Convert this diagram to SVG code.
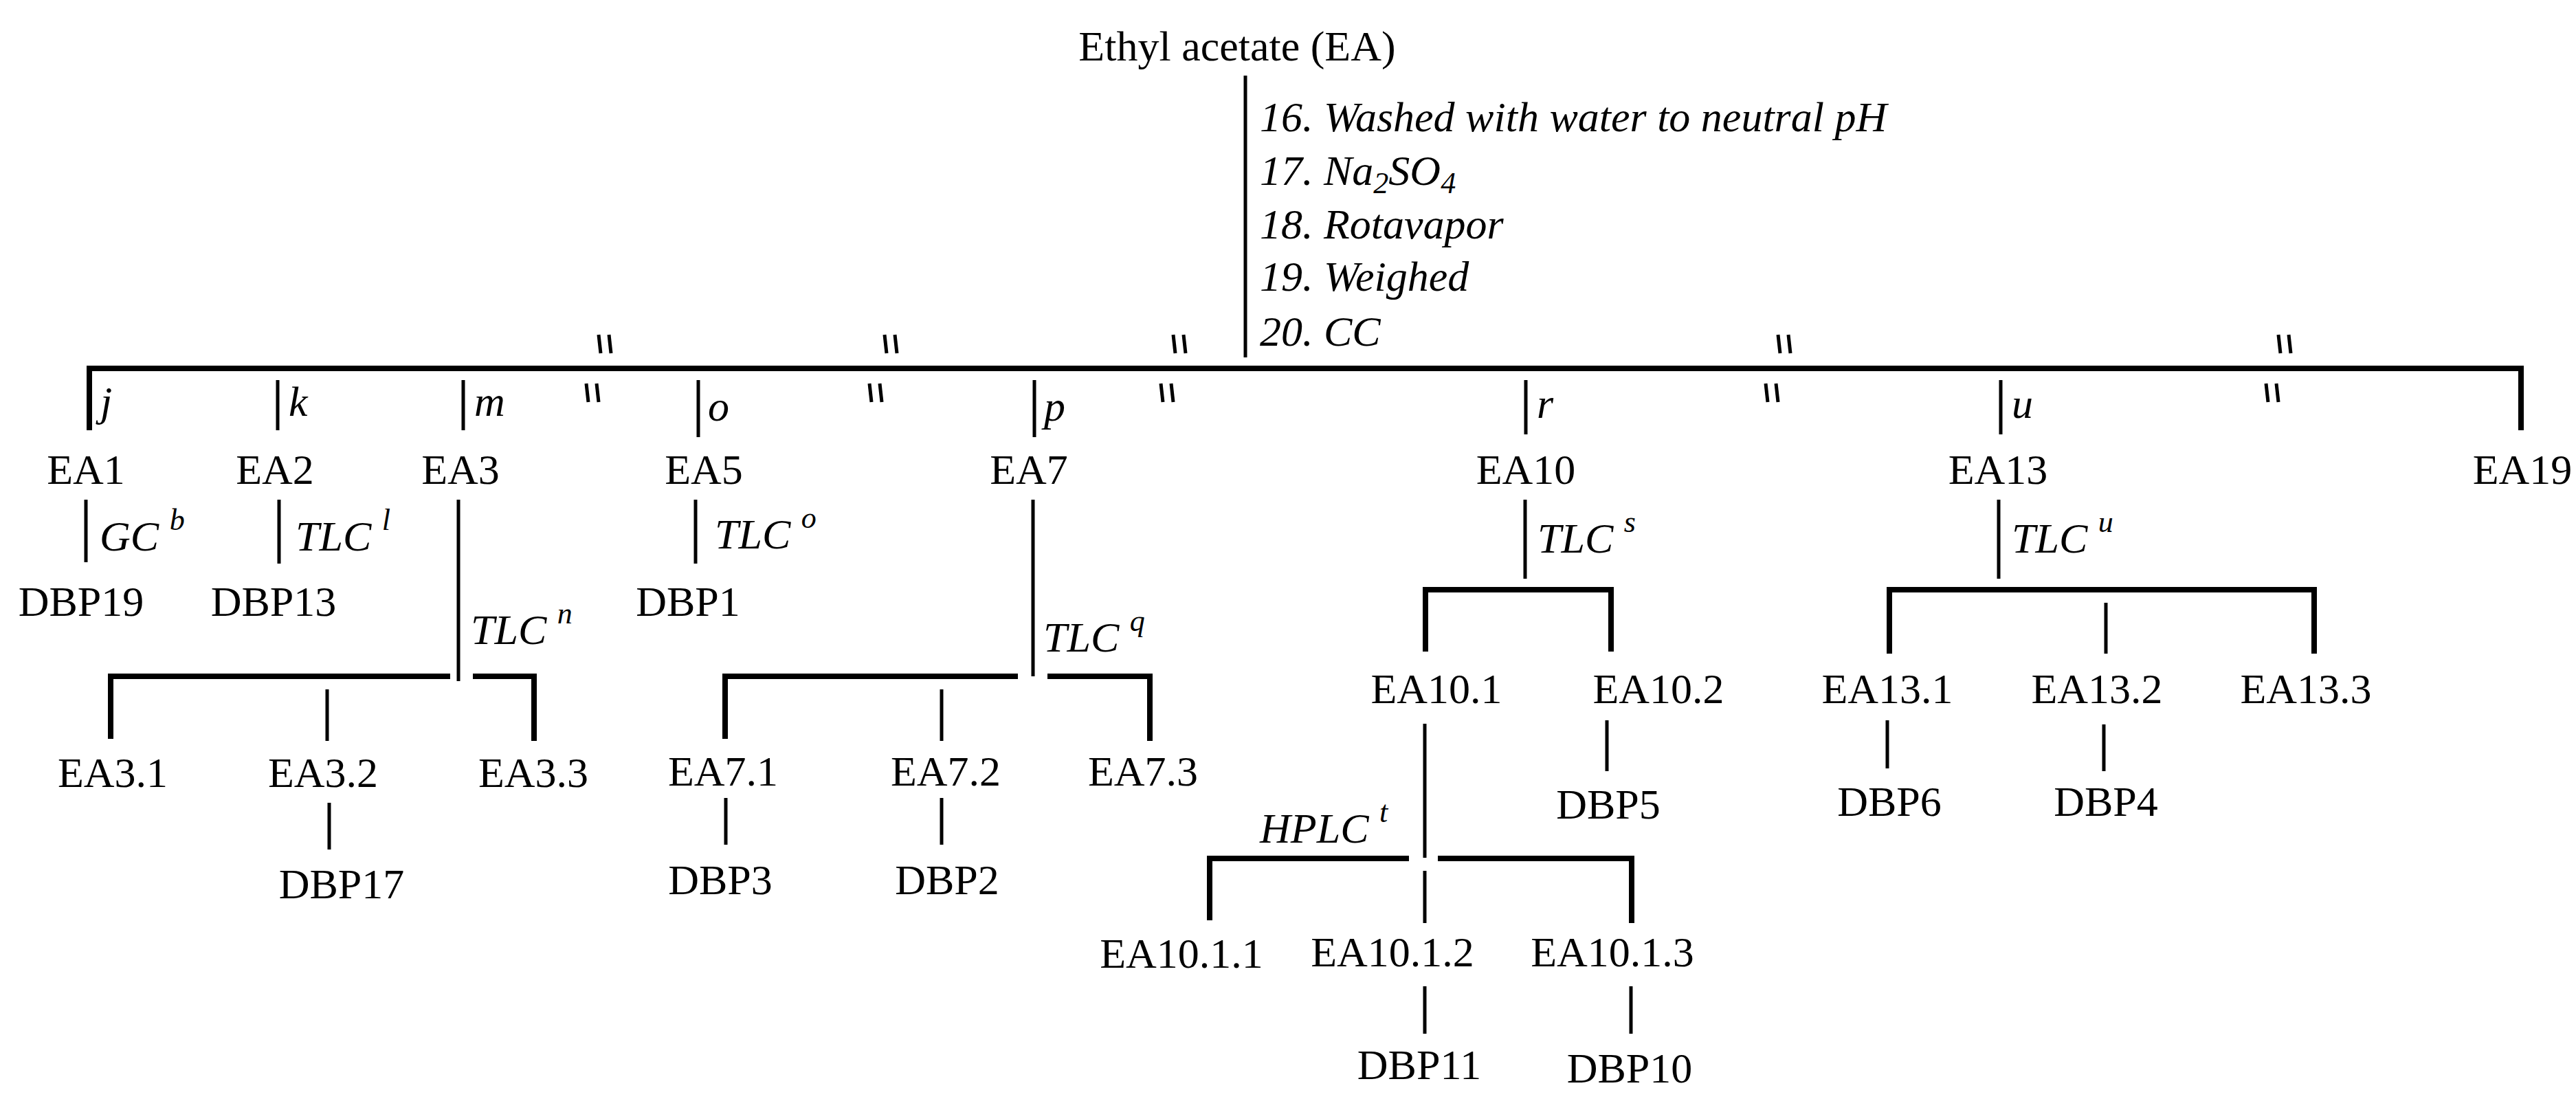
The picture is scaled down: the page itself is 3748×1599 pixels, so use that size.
<svg xmlns="http://www.w3.org/2000/svg" width="3748" height="1599" viewBox="0 0 3748 1599">
<style>
text{font-family:"Liberation Serif","Times New Roman",serif;font-size:62px;fill:#000}
.n{text-anchor:middle}
.i{font-style:italic}
.s{font-size:44px}
line,path{stroke:#000;stroke-width:5;fill:none;stroke-linecap:butt}
.h{stroke-width:8}
.bk{stroke-width:6;stroke-linecap:round}
</style>
<rect width="3748" height="1599" fill="#fff"/>
<g id="root"><text class="n" x="1800" y="88">Ethyl acetate (EA)</text></g>
<g id="steps" class="i">
<text class="i" x="1833" y="191">16. Washed with water to neutral pH</text>
<text class="i" x="1833" y="269">17. Na<tspan class="s" dy="12">2</tspan><tspan dy="-12">SO</tspan><tspan class="s" dy="12">4</tspan></text>
<text class="i" x="1833" y="347">18. Rotavapor</text>
<text class="i" x="1833" y="423">19. Weighed</text>
<text class="i" x="1833" y="503">20. CC</text>
</g>
<g id="connectors">
<line x1="1812" y1="110" x2="1812" y2="520"/>
<path class="h" d="M130 626 V536 H3668 V626"/>
<line x1="404" y1="553" x2="404" y2="626"/>
<line x1="674" y1="553" x2="674" y2="626"/>
<line x1="1016" y1="553" x2="1016" y2="636"/>
<line x1="1505" y1="553" x2="1505" y2="636"/>
<line x1="2220" y1="553" x2="2220" y2="632"/>
<line x1="2911" y1="553" x2="2911" y2="632"/>
<g class="bk">
<line x1="871" y1="487" x2="874" y2="514"/><line x1="886" y1="487" x2="889" y2="514"/>
<line x1="1287" y1="487" x2="1290" y2="514"/><line x1="1302" y1="487" x2="1305" y2="514"/>
<line x1="1707" y1="487" x2="1710" y2="514"/><line x1="1722" y1="487" x2="1725" y2="514"/>
<line x1="2587" y1="487" x2="2590" y2="514"/><line x1="2602" y1="487" x2="2605" y2="514"/>
<line x1="3315" y1="487" x2="3318" y2="514"/><line x1="3330" y1="487" x2="3333" y2="514"/>
<line x1="853" y1="558" x2="856" y2="585"/><line x1="868" y1="558" x2="871" y2="585"/>
<line x1="1265" y1="558" x2="1268" y2="585"/><line x1="1280" y1="558" x2="1283" y2="585"/>
<line x1="1689" y1="558" x2="1692" y2="585"/><line x1="1704" y1="558" x2="1707" y2="585"/>
<line x1="2569" y1="558" x2="2572" y2="585"/><line x1="2584" y1="558" x2="2587" y2="585"/>
<line x1="3297" y1="558" x2="3300" y2="585"/><line x1="3312" y1="558" x2="3315" y2="585"/>
</g>
<line x1="125" y1="727" x2="125" y2="818"/>
<line x1="406" y1="727" x2="406" y2="820"/>
<line x1="667" y1="727" x2="667" y2="991"/>
<line x1="1012" y1="727" x2="1012" y2="820"/>
<line x1="1503" y1="727" x2="1503" y2="984"/>
<path class="h" d="M161 1075 V984 H655 M688 984 H777 V1078"/>
<line x1="476" y1="1003" x2="476" y2="1078"/>
<line x1="479" y1="1168" x2="479" y2="1236"/>
<path class="h" d="M1055 1075 V984 H1481 M1524 984 H1673 V1078"/>
<line x1="1370" y1="1003" x2="1370" y2="1078"/>
<line x1="1056" y1="1161" x2="1056" y2="1229"/>
<line x1="1370" y1="1161" x2="1370" y2="1229"/>
<line x1="2219" y1="727" x2="2219" y2="842"/>
<path class="h" d="M2074 948 V858 H2344 V948"/>
<line x1="2073" y1="1053" x2="2073" y2="1248"/>
<line x1="2073" y1="1267" x2="2073" y2="1343"/>
<path class="h" d="M1760 1339 V1249 H2050 M2092 1249 H2374 V1343"/>
<line x1="2073" y1="1435" x2="2073" y2="1504"/>
<line x1="2373" y1="1435" x2="2373" y2="1504"/>
<line x1="2338" y1="1048" x2="2338" y2="1122"/>
<line x1="2908" y1="727" x2="2908" y2="842"/>
<path class="h" d="M2749 951 V858 H3367 V951"/>
<line x1="3064" y1="877" x2="3064" y2="951"/>
<line x1="2746" y1="1048" x2="2746" y2="1118"/>
<line x1="3061" y1="1054" x2="3061" y2="1122"/>
</g>
<g id="labels" class="i">
<text class="i" x="146" y="605">j</text>
<text class="i" x="420" y="605">k</text>
<text class="i" x="690" y="605">m</text>
<text class="i" x="1030" y="612">o</text>
<text class="i" x="1519" y="612">p</text>
<text class="i" x="2236" y="608">r</text>
<text class="i" x="2927" y="608">u</text>
<text class="i" x="145" y="801">GC <tspan class="s" dy="-30">b</tspan></text>
<text class="i" x="430" y="801">TLC <tspan class="s" dy="-30">l</tspan></text>
<text class="i" x="685" y="937">TLC <tspan class="s" dy="-30">n</tspan></text>
<text class="i" x="1040" y="798">TLC <tspan class="s" dy="-30">o</tspan></text>
<text class="i" x="1518" y="948">TLC <tspan class="s" dy="-30">q</tspan></text>
<text class="i" x="2237" y="804">TLC <tspan class="s" dy="-30">s</tspan></text>
<text class="i" x="2927" y="804">TLC <tspan class="s" dy="-30">u</tspan></text>
<text class="i" x="1833" y="1226">HPLC <tspan class="s" dy="-30">t</tspan></text>
</g>
<g id="EA1"><text class="n" x="125" y="704">EA1</text></g>
<g id="EA2"><text class="n" x="400" y="704">EA2</text></g>
<g id="EA3"><text class="n" x="670" y="704">EA3</text></g>
<g id="EA5"><text class="n" x="1024" y="704">EA5</text></g>
<g id="EA7"><text class="n" x="1497" y="704">EA7</text></g>
<g id="EA10"><text class="n" x="2220" y="704">EA10</text></g>
<g id="EA13"><text class="n" x="2907" y="704">EA13</text></g>
<g id="EA19"><text class="n" x="3670" y="704">EA19</text></g>
<g id="DBP19"><text class="n" x="118" y="896">DBP19</text></g>
<g id="DBP13"><text class="n" x="398" y="896">DBP13</text></g>
<g id="DBP1"><text class="n" x="1001" y="896">DBP1</text></g>
<g id="EA3.1"><text class="n" x="164" y="1145">EA3.1</text></g>
<g id="EA3.2"><text class="n" x="470" y="1145">EA3.2</text></g>
<g id="EA3.3"><text class="n" x="776" y="1145">EA3.3</text></g>
<g id="DBP17"><text class="n" x="497" y="1307">DBP17</text></g>
<g id="EA7.1"><text class="n" x="1052" y="1143">EA7.1</text></g>
<g id="EA7.2"><text class="n" x="1376" y="1143">EA7.2</text></g>
<g id="EA7.3"><text class="n" x="1663" y="1143">EA7.3</text></g>
<g id="DBP3"><text class="n" x="1048" y="1301">DBP3</text></g>
<g id="DBP2"><text class="n" x="1378" y="1301">DBP2</text></g>
<g id="EA10.1"><text class="n" x="2090" y="1023">EA10.1</text></g>
<g id="EA10.2"><text class="n" x="2413" y="1023">EA10.2</text></g>
<g id="DBP5"><text class="n" x="2340" y="1191">DBP5</text></g>
<g id="EA10.1.1"><text class="n" x="1719" y="1408">EA10.1.1</text></g>
<g id="EA10.1.2"><text class="n" x="2026" y="1406">EA10.1.2</text></g>
<g id="EA10.1.3"><text class="n" x="2346" y="1406">EA10.1.3</text></g>
<g id="DBP11"><text class="n" x="2065" y="1570">DBP11</text></g>
<g id="DBP10"><text class="n" x="2371" y="1575">DBP10</text></g>
<g id="EA13.1"><text class="n" x="2746" y="1023">EA13.1</text></g>
<g id="EA13.2"><text class="n" x="3051" y="1023">EA13.2</text></g>
<g id="EA13.3"><text class="n" x="3355" y="1023">EA13.3</text></g>
<g id="DBP6"><text class="n" x="2749" y="1187">DBP6</text></g>
<g id="DBP4"><text class="n" x="3064" y="1187">DBP4</text></g>
</svg>
